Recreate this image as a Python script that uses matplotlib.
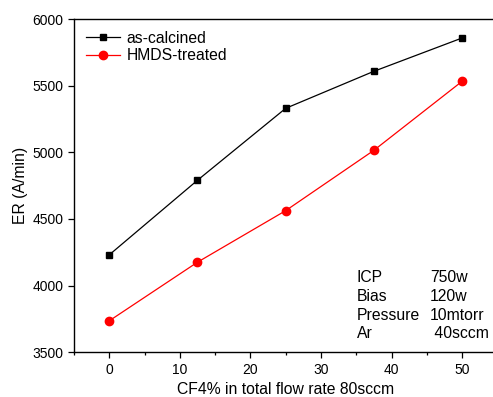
import matplotlib
matplotlib.use("Agg")
import matplotlib.pyplot as plt
from matplotlib.ticker import MultipleLocator

plt.rcParams['font.family'] = ['Liberation Sans', 'DejaVu Sans']

cf4 = [0, 12.5, 25, 37.5, 50]
as_calcined = [4230, 4790, 5330, 5608, 5858]
hmds_treated = [3735, 4175, 4562, 5015, 5533]

fig = plt.figure(figsize=(4.93, 3.97), dpi=100)
ax = fig.add_axes([0.150, 0.113, 0.859, 0.839])

ax.plot(cf4, as_calcined, color='black', lw=0.9, marker='s', ms=5, label='as-calcined')
ax.plot(cf4, hmds_treated, color='red', lw=0.9, marker='o', ms=6, label='HMDS-treated')

ax.set_xlim(-5, 55)
ax.set_ylim(3500, 6000)
ax.xaxis.set_major_locator(MultipleLocator(10))
ax.xaxis.set_minor_locator(MultipleLocator(5))
ax.yaxis.set_major_locator(MultipleLocator(500))
ax.tick_params(which='both', direction='out', labelsize=10, width=0.9)
ax.tick_params(which='major', length=4)
ax.tick_params(which='minor', length=2.5)
for s in ax.spines.values():
    s.set_linewidth(1.0)

ax.set_xlabel('CF4% in total flow rate 80sccm', fontsize=11.3, labelpad=4)
ax.set_ylabel('ER (A/min)', fontsize=11.3, labelpad=3)

ax.legend(loc='upper left', frameon=False, fontsize=11.3, handlelength=2.2,
          borderaxespad=0.35, labelspacing=0.15, handletextpad=0.4)

rows = [('ICP', '750w'), ('Bias', '120w'), ('Pressure', '10mtorr'), ('Ar', ' 40sccm')]
for i, (k, v) in enumerate(rows):
    y = 1 - (278 + i * 18.6) / 397
    fig.text(357 / 493, y, k, fontsize=11.3, va='center')
    fig.text(430 / 493, y, v, fontsize=11.3, va='center')

fig.savefig('out.png', dpi=100)
